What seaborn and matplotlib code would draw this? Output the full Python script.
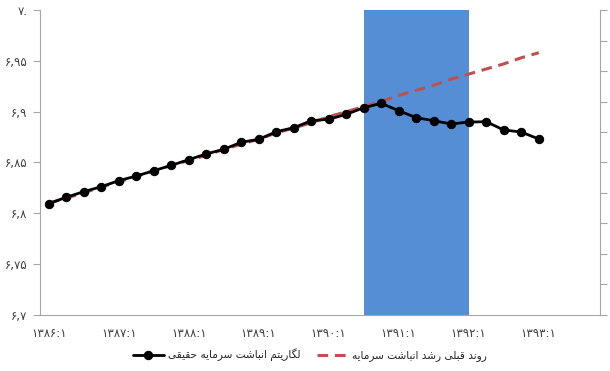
import matplotlib
matplotlib.use("Agg")
import matplotlib.pyplot as plt
import numpy as np
import pandas as pd
import seaborn as sns

# quarters 1386:1 .. 1393:4 (Persian digits)
years = ["۱۳۸۶", "۱۳۸۷", "۱۳۸۸", "۱۳۸۹", "۱۳۹۰", "۱۳۹۱", "۱۳۹۲", "۱۳۹۳"]
quarter_nums = ["۱", "۲", "۳", "۴"]
quarters = [y + ":" + q for y in years for q in quarter_nums]

capital_log = [6.8095, 6.8158, 6.8213, 6.8262, 6.8321, 6.8367, 6.8419, 6.8472,
               6.8528, 6.8584, 6.8630, 6.8699, 6.8728, 6.8803, 6.8842, 6.8911,
               6.8925, 6.8974, 6.9039, 6.9082, 6.9009, 6.8941, 6.8911, 6.8879,
               6.8898, 6.8901, 6.8820, 6.8800, 6.8731]
prior_trend = [6.810, 6.815, 6.820, 6.826, 6.831, 6.836, 6.842, 6.847,
               6.852, 6.857, 6.863, 6.868, 6.873, 6.879, 6.884, 6.889,
               6.895, 6.900, 6.905, 6.910, 6.916, 6.921, 6.926, 6.932,
               6.937, 6.942, 6.947, 6.953, 6.958]

shaded_from = "۱۳۹۰:۳"
shaded_to = "۱۳۹۲:۱"

y_ticks = [6.7, 6.75, 6.8, 6.85, 6.9, 6.95, 7.0]
y_tick_labels = ["۶,۷", "۶,۷۵", "۶,۸", "۶,۸۵", "۶,۹", "۶,۹۵", "۷."]

label_actual = "لگاریتم انباشت سرمایه حقیقی"
label_trend = "روند قبلی رشد انباشت سرمایه"

# minimal Persian shaping (matplotlib 3.10 has no bidi / joining)
DUAL = {
    "ب": (0xFE8F, 0xFE90, 0xFE91, 0xFE92), "ت": (0xFE95, 0xFE96, 0xFE97, 0xFE98),
    "ح": (0xFEA1, 0xFEA2, 0xFEA3, 0xFEA4), "س": (0xFEB1, 0xFEB2, 0xFEB3, 0xFEB4),
    "ش": (0xFEB5, 0xFEB6, 0xFEB7, 0xFEB8), "ق": (0xFED5, 0xFED6, 0xFED7, 0xFED8),
    "ل": (0xFEDD, 0xFEDE, 0xFEDF, 0xFEE0), "م": (0xFEE1, 0xFEE2, 0xFEE3, 0xFEE4),
    "ن": (0xFEE5, 0xFEE6, 0xFEE7, 0xFEE8), "ه": (0xFEE9, 0xFEEA, 0xFEEB, 0xFEEC),
    "گ": (0xFB92, 0xFB93, 0xFB94, 0xFB95), "ی": (0xFBFC, 0xFBFD, 0xFBFE, 0xFBFF),
}
RIGHT = {"ا": (0xFE8D, 0xFE8E), "د": (0xFEA9, 0xFEAA), "ر": (0xFEAD, 0xFEAE),
         "و": (0xFEED, 0xFEEE)}


def shape(text):
    out = []
    for i, c in enumerate(text):
        prev = text[i - 1] if i > 0 else " "
        nxt = text[i + 1] if i + 1 < len(text) else " "
        joins_prev = prev in DUAL and c in (DUAL.keys() | RIGHT.keys())
        joins_next = c in DUAL and (nxt in DUAL or nxt in RIGHT)
        if c in DUAL:
            iso, fin, ini, med = DUAL[c]
            cp = med if joins_prev and joins_next else fin if joins_prev else ini if joins_next else iso
            out.append(chr(cp))
        elif c in RIGHT:
            iso, fin = RIGHT[c]
            out.append(chr(fin if joins_prev else iso))
        else:
            out.append(c)
    return "".join(reversed(out))


sns.set_style("white")
plt.rcParams["font.family"] = ["DejaVu Sans"]

fig = plt.figure(figsize=(6.1, 3.71), dpi=100)
ax = fig.add_axes([0.0656, 0.151, 0.918, 0.822])

x = np.arange(len(capital_log))
df = pd.DataFrame({"pos": x, "actual": capital_log, "trend": prior_trend})

i0, i1 = quarters.index(shaded_from), quarters.index(shaded_to)
ax.axvspan(i0, i1, color="#558ED5", zorder=1, lw=0)

sns.lineplot(data=df, x="pos", y="trend", ax=ax, color="#C0504D", lw=2.2,
             linestyle=(0, (3.5, 2.2)), label=shape(label_trend), zorder=3)
sns.lineplot(data=df, x="pos", y="actual", ax=ax, color="black", lw=2,
             marker="o", markersize=6, markeredgecolor="black",
             label=shape(label_actual), zorder=4)

ax.set_xlim(-0.5, len(quarters) - 0.5)
ax.set_ylim(6.7, 7.0)
ax.set_yticks(y_ticks)
ax.set_yticklabels(y_tick_labels)
ax.set_xticks(np.arange(0, len(quarters), 4))
ax.set_xticklabels(quarters[::4])
ax.set_xticks(np.arange(-0.5, len(quarters), 1), minor=True)
ax.set_xlabel("")
ax.set_ylabel("")

grey = "#A6A6A6"
ax.tick_params(axis="x", which="major", length=0, pad=9, labelsize=8.5, labelcolor="#404040")
ax.tick_params(axis="x", which="minor", length=5, width=0.8, color=grey, direction="out")
ax.tick_params(axis="y", length=5, width=0.8, color=grey, direction="out", pad=4,
               labelsize=8.5, labelcolor="#404040", left=True)
for side in ["top", "right"]:
    ax.spines[side].set_visible(False)
for side in ["left", "bottom"]:
    ax.spines[side].set_color(grey)
    ax.spines[side].set_linewidth(0.8)

ax2 = ax.twinx()
ax2.set_ylim(0, 1)
ax2.set_yticks(np.arange(0, 1.01, 0.1))
ax2.set_yticklabels([])
ax2.tick_params(axis="y", length=5, width=0.8, color=grey, direction="out", right=True)
for side in ["top", "left", "bottom"]:
    ax2.spines[side].set_visible(False)
ax2.spines["right"].set_color(grey)
ax2.spines["right"].set_linewidth(0.8)

handles, labels = ax.get_legend_handles_labels()
ax.get_legend().remove()
fig.legend(handles[::-1], labels[::-1], loc="center", bbox_to_anchor=(0.508, 0.043),
           ncol=2, frameon=False, fontsize=7.6, handlelength=2.9, handletextpad=0.4,
           columnspacing=1.6)

fig.savefig("out.png", dpi=100)
